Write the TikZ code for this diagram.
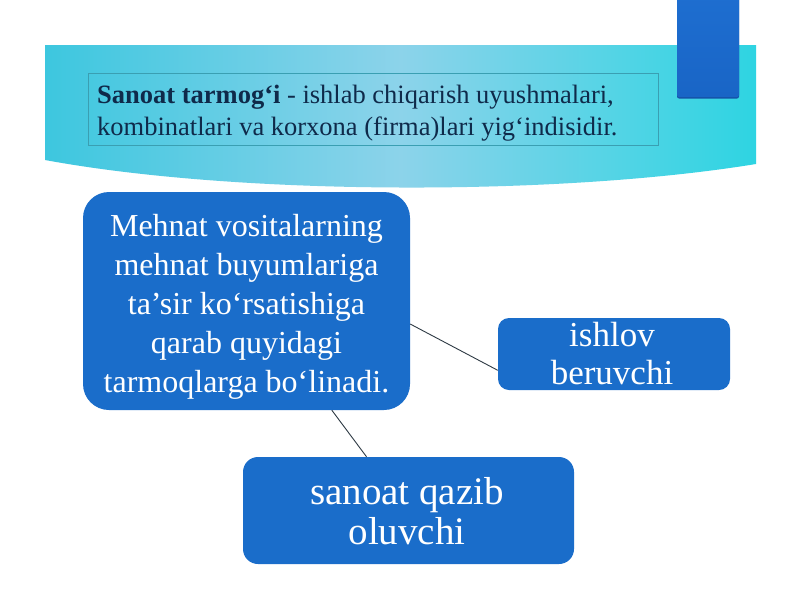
\documentclass[tikz,border=0pt]{standalone}
\usepackage{fontspec}
\setmainfont{Liberation Serif}
\definecolor{boxblue}{HTML}{1A6DCA}
\definecolor{bannerL}{HTML}{3DC7DF}
\definecolor{bannerM}{HTML}{8CD3EA}
\definecolor{bannerR}{HTML}{2ED4E2}
\definecolor{tabtop}{HTML}{1E6ED0}
\definecolor{tabbot}{HTML}{1965C6}
\definecolor{tabedge}{HTML}{1552A8}
\definecolor{deftext}{HTML}{0F2A4A}
\definecolor{defline}{HTML}{3A9FB2}
\definecolor{connc}{HTML}{2E3A44}
\tikzset{
  bluebox/.style={fill=boxblue, inner sep=0pt},
  boxtext/.style={text=white, align=center, inner sep=0pt},
  conn/.style={draw=connc, line width=0.9pt}
}
\begin{document}
\begin{tikzpicture}[x=1pt,y=-1pt]
\useasboundingbox (0,0) rectangle (800,600);
\fill[white] (0,0) rectangle (800,600);
% banner
\shade[left color=bannerL, right color=bannerR, middle color=bannerM]
  (45,45) -- (756,45) -- (756,164) .. controls (560,196) and (240,196) .. (45,160) -- cycle;
% top right tab
\fill[tabedge, rounded corners=2pt] (677,-5) rectangle (739,98.5);
\shade[top color=tabtop, bottom color=tabbot, rounded corners=2pt] (677,-5) rectangle (739,97);
% definition box
\node[draw=defline, line width=0.6pt, minimum width=570pt, minimum height=72pt,
      inner sep=0pt] (def) at (373,109) {};
\node[anchor=west, align=left, inner sep=0pt, text=deftext,
      font=\fontsize{26.5}{32}\selectfont] (deftxt) at (97,113)
  {\textbf{Sanoat tarmog‘i} - ishlab chiqarish uyushmalari,\\kombinatlari va korxona (firma)lari yig‘indisidir.};
% main node
\node[bluebox, rounded corners=26pt, minimum width=327pt, minimum height=218pt] (main) at (246.5,301) {};
\node[boxtext, font=\fontsize{32}{39}\selectfont] (maintxt) at (246.5,307)
  {Mehnat vositalarning\\mehnat buyumlariga\\ta’sir ko‘rsatishiga\\qarab quyidagi\\tarmoqlarga bo‘linadi.};
\node[bluebox, rounded corners=11pt, minimum width=232pt, minimum height=72pt] (ish) at (614,354) {};
\node[boxtext, font=\fontsize{35}{38}\selectfont] (ishtxt) at (612,353.5)
  {ishlov\\beruvchi};
\node[bluebox, rounded corners=15pt, minimum width=331pt, minimum height=107pt] (san) at (408.5,510.5) {};
\node[boxtext, font=\fontsize{39}{40}\selectfont] (santxt) at (407,511.5)
  {sanoat qazib\\oluvchi};
% connectors
\draw[conn] (main.-8) -- (ish.188);
\draw[conn] (main.-52) -- (san.128);
\end{tikzpicture}
\end{document}
